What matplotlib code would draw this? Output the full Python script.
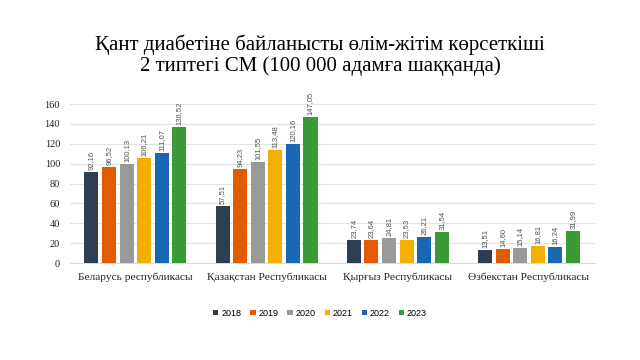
import numpy as np
import matplotlib
matplotlib.use("Agg")
import matplotlib.pyplot as plt

# data
countries = ["Беларусь республикасы", "Қазақстан Республикасы",
             "Қырғыз Республикасы", "Өзбекстан Республикасы"]
years = ["2018", "2019", "2020", "2021", "2022", "2023"]
v2018 = [92.16, 57.51, 23.74, 13.51]
v2019 = [96.52, 94.23, 23.64, 14.60]
v2020 = [100.13, 101.55, 24.81, 15.14]
v2021 = [106.21, 113.48, 23.53, 16.81]
v2022 = [111.07, 120.16, 26.21, 16.24]
v2023 = [136.52, 147.05, 31.54, 31.99]
series = [v2018, v2019, v2020, v2021, v2022, v2023]
colors = ["#2D3E50", "#E15B00", "#999999", "#F5AF00", "#1767B3", "#3A9A35"]

fig = plt.figure(figsize=(6.4, 3.6), dpi=100)
ax = fig.add_axes([0.109, 0.269, 0.82, 0.442])

x = np.arange(len(countries))
pitch = 0.134
width = 0.107
for i, (vals, c, yr) in enumerate(zip(series, colors, years)):
    pos = x + (i - 2.5) * pitch
    ax.bar(pos, vals, width=width, color=c, label=yr, zorder=3)
    for p, v in zip(pos, vals):
        ax.text(p, v + 2, f"{v:.2f}".replace(".", ","), rotation=90,
                ha="center", va="bottom", fontsize=5.5, color="#505050",
                family="Liberation Sans")

ax.set_xlim(-0.5, 3.5)
ax.set_ylim(0, 160)
ax.set_yticks(range(0, 161, 20))
ax.grid(axis="y", color="#E3E3E3", lw=0.8, zorder=0)
for s in ["top", "right", "left"]:
    ax.spines[s].set_visible(False)
ax.spines["bottom"].set_color("#D9D9D9")
ax.tick_params(axis="both", length=0, labelsize=7.5, colors="#222222", pad=7)
ax.set_xticks(x)
ax.set_xticklabels(countries, family="Liberation Serif", fontsize=8.2)
for t in ax.get_yticklabels():
    t.set_family("Liberation Serif")

fig.text(0.5, 0.875, "Қант диабетіне байланысты өлім-жітім көрсеткіші",
         ha="center", va="center", fontsize=15, family="Liberation Serif")
fig.text(0.5, 0.815, "2 типтегі СМ (100 000 адамға шаққанда)",
         ha="center", va="center", fontsize=15, family="Liberation Serif")

fig.legend(loc="center", bbox_to_anchor=(0.50, 0.13), ncol=6, frameon=False,
           handlelength=0.6, handleheight=0.6, handletextpad=0.3,
           columnspacing=1.0, prop={"family": "Liberation Sans", "size": 6.5})

fig.savefig("out.png", dpi=100, facecolor="white")
